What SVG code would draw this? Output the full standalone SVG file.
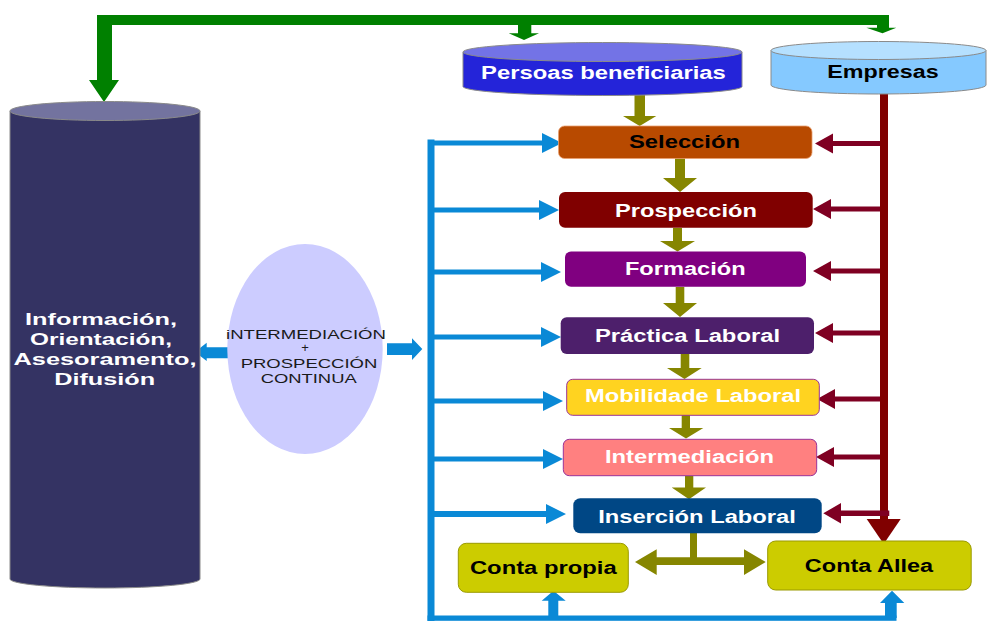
<svg xmlns="http://www.w3.org/2000/svg" width="988" height="621" viewBox="0 0 988 621">
<style>
.t{font-family:"Liberation Sans",Arial,sans-serif;font-weight:bold;font-size:18px;text-anchor:middle}
.w{fill:#ffffff}
.k{fill:#000000}
.e{font-family:"Liberation Sans",Arial,sans-serif;font-size:13px;text-anchor:middle;fill:#1a1a1a}
.cyl{stroke:#8a8a8a;stroke-width:1}
.blue{fill:#0a89d6}
.mar{fill:#7f0022}
.olive{fill:#868600}
.green{fill:#008000}
</style>
<rect width="988" height="621" fill="#ffffff"/>

<g id="connectors">
  <!-- green top -->
  <path class="green" d="M97,15 H889 V27.7 H896.3 L882.5,33.3 L866.3,27.7 H877 V25 H531.3 V33.3 H539 L524,40 L508.7,33.3 H518 V25 H112 V80 H119 L104,102 L89,80 H97 Z"/>
  <!-- olive vertical arrows -->
  <path class="olive" d="M634.5,94 H645 V116 H656.3 L639.7,126 L623,116 H634.5 Z"/>
  <path class="olive" d="M675,158 H685 V178 H697 L680,192 L663,178 H675 Z"/>
  <path class="olive" d="M673,228 H682 V241 H695 L677.5,251.5 L660,241 H673 Z"/>
  <path class="olive" d="M675.7,287 H684.3 V303 H697 L680,317 L663,303 H675.7 Z"/>
  <path class="olive" d="M680.7,354 H689.3 V368 H701.7 L684.5,379 L667,368 H680.7 Z"/>
  <path class="olive" d="M681.7,415 H690 V428 H703.3 L686,438.5 L669,428 H681.7 Z"/>
  <path class="olive" d="M685,476 H693.3 V487.5 H706 L689,499.3 L671.7,487.5 H685 Z"/>
  <!-- olive T -->
  <path class="olive" d="M690,533 H697 V557.3 H744 V549.3 L765.7,562 L744,575 V565 H656.7 V575 L635,562 L656.7,549.3 V557.3 H690 Z"/>
  <!-- blue left bus -->
  <rect class="blue" x="427.5" y="139.5" width="7" height="481.5"/>
  <rect class="blue" x="427.5" y="615.5" width="469" height="5.3"/>
  <path class="blue" d="M434,140.5 H542 V133 L562,143 L542,153 V145.5 H434 Z"/>
  <path class="blue" d="M434,207.5 H539 V200 L559,210 L539,220 V212.5 H434 Z"/>
  <path class="blue" d="M434,269.5 H541 V262 L561,272 L541,282 V274.5 H434 Z"/>
  <path class="blue" d="M434,334.5 H541 V327 L561,337 L541,347 V339.5 H434 Z"/>
  <path class="blue" d="M434,398.5 H543 V391 L563,401 L543,411 V403.5 H434 Z"/>
  <path class="blue" d="M434,456.5 H543 V449 L563,459 L543,469 V461.5 H434 Z"/>
  <path class="blue" d="M434,511 H546 V504 L566,514 L546,524 V517 H434 Z"/>
  <!-- blue up arrows -->
  <path class="blue" d="M548.3,618 V600.7 H541.7 L553.5,590.7 L565.7,600.7 H558.3 V618 Z"/>
  <path class="blue" d="M885,618 V603 H880 L892,590.7 L904.3,603 H896.7 V618 Z"/>
  <!-- blue ellipse arrows -->
  <path class="blue" d="M228,347.3 V358.3 H206.7 V361 L195,352 L206.7,342.7 V347.3 Z"/>
  <path class="blue" d="M387,343.3 H412 V338.3 L422.3,349 L412,360 V355 H387 Z"/>
  <!-- maroon -->
  <rect x="880" y="93" width="8" height="428" fill="#800000"/>
  <path fill="#800000" d="M866.7,519 H900.7 L883.7,544 Z"/>
  <path class="mar" d="M880,141 H833 V133.5 L815,143.5 L833,153.5 V146 H880 Z"/>
  <path class="mar" d="M880,206.5 H831 V199 L813,209 L831,219 V211.5 H880 Z"/>
  <path class="mar" d="M880,268.5 H831 V261 L813,271 L831,281 V273.5 H880 Z"/>
  <path class="mar" d="M880,330.5 H833 V323 L815,333 L833,343 V335.5 H880 Z"/>
  <path class="mar" d="M880,396.5 H835 V389 L817,399 L835,409 V401.5 H880 Z"/>
  <path class="mar" d="M880,454.5 H834 V447 L816,457 L834,467 V459.5 H880 Z"/>
  <path class="mar" d="M889.3,510.5 H841 V503 L823.3,513.3 L841,523.5 V516 H889.3 Z"/>
</g>

<g id="info">
  <path class="cyl" fill="#343363" d="M10,111 V579 A95,9 0 0 0 200,579 V111 Z"/>
  <ellipse class="cyl" cx="105" cy="111" rx="95" ry="9.5" fill="#73739f"/>
  <text class="t w" style="font-size:17px" x="101" y="325" textLength="152" lengthAdjust="spacingAndGlyphs">Información,</text>
  <text class="t w" style="font-size:17px" x="101" y="345" textLength="142" lengthAdjust="spacingAndGlyphs">Orientación,</text>
  <text class="t w" style="font-size:17px" x="105" y="365" textLength="183" lengthAdjust="spacingAndGlyphs">Asesoramento,</text>
  <text class="t w" style="font-size:17px" x="104.7" y="385" textLength="101" lengthAdjust="spacingAndGlyphs">Difusión</text>
</g>

<g id="intermediacion-continua">
  <ellipse cx="305" cy="349" rx="77.7" ry="105" fill="#ccccff"/>
  <text class="e" x="306" y="338.7" textLength="160" lengthAdjust="spacingAndGlyphs">iNTERMEDIACIÓN</text>
  <text class="e" x="305" y="352">+</text>
  <text class="e" x="309" y="368.3" textLength="136.7" lengthAdjust="spacingAndGlyphs">PROSPECCIÓN</text>
  <text class="e" x="308.7" y="382.7" textLength="96" lengthAdjust="spacingAndGlyphs">CONTINUA</text>
</g>

<g id="persoas">
  <path class="cyl" fill="#2424d9" d="M463,52 V86.5 A139.5,9 0 0 0 742,86.5 V52 Z"/>
  <ellipse class="cyl" cx="602.5" cy="52" rx="139.5" ry="9.5" fill="#7373e6"/>
  <text class="t w" x="603.4" y="79.3" textLength="244.7" lengthAdjust="spacingAndGlyphs">Persoas beneficiarias</text>
</g>

<g id="empresas">
  <path class="cyl" fill="#85c9ff" d="M771,50.5 V85 A107.5,9 0 0 0 986,85 V50.5 Z"/>
  <ellipse class="cyl" cx="878.5" cy="50.5" rx="107.5" ry="9" fill="#b5e0ff"/>
  <text class="t k" x="883" y="78.3" textLength="111.4" lengthAdjust="spacingAndGlyphs">Empresas</text>
</g>

<g id="seleccion">
  <rect x="558.5" y="126" width="253.5" height="32.5" rx="6" fill="#b84a00" stroke="#e8a070" stroke-width="0.8"/>
  <text class="t k" x="684.5" y="148" textLength="111" lengthAdjust="spacingAndGlyphs">Selección</text>
</g>
<g id="prospeccion">
  <rect x="559" y="192" width="253.7" height="35.7" rx="6" fill="#800000"/>
  <text class="t w" x="686" y="216.7" textLength="142" lengthAdjust="spacingAndGlyphs">Prospección</text>
</g>
<g id="formacion">
  <rect x="565" y="251.5" width="241" height="35.2" rx="6" fill="#800080"/>
  <text class="t w" x="685.3" y="275" textLength="120.7" lengthAdjust="spacingAndGlyphs">Formación</text>
</g>
<g id="practica">
  <rect x="560.7" y="317.3" width="253.3" height="36.7" rx="6" fill="#4d1f6b"/>
  <text class="t w" x="687.5" y="341.7" textLength="185" lengthAdjust="spacingAndGlyphs">Práctica Laboral</text>
</g>
<g id="mobilidade">
  <rect x="566.7" y="379.3" width="252.6" height="36" rx="6" fill="#ffd320" stroke="#993399" stroke-width="1"/>
  <text class="t w" x="693" y="402.3" textLength="216" lengthAdjust="spacingAndGlyphs">Mobilidade Laboral</text>
</g>
<g id="intermediacion">
  <rect x="563.3" y="439.3" width="253.4" height="36.4" rx="6" fill="#ff8080" stroke="#993399" stroke-width="1"/>
  <text class="t w" x="689.5" y="463.3" textLength="169" lengthAdjust="spacingAndGlyphs">Intermediación</text>
</g>
<g id="insercion">
  <rect x="573.3" y="498.3" width="248.4" height="35" rx="7" fill="#004785"/>
  <text class="t w" x="697" y="522.7" textLength="197.7" lengthAdjust="spacingAndGlyphs">Inserción Laboral</text>
</g>
<g id="conta-propia">
  <rect x="458.3" y="543.3" width="170" height="49" rx="8" fill="#cccc00" stroke="#9a9a00" stroke-width="1"/>
  <text class="t k" x="543.3" y="574.3" textLength="146.7" lengthAdjust="spacingAndGlyphs">Conta propia</text>
</g>
<g id="conta-allea">
  <rect x="767.7" y="541" width="203.5" height="49" rx="8" fill="#cccc00" stroke="#9a9a00" stroke-width="1"/>
  <text class="t k" x="869" y="571.7" textLength="128.3" lengthAdjust="spacingAndGlyphs">Conta Allea</text>
</g>
</svg>
